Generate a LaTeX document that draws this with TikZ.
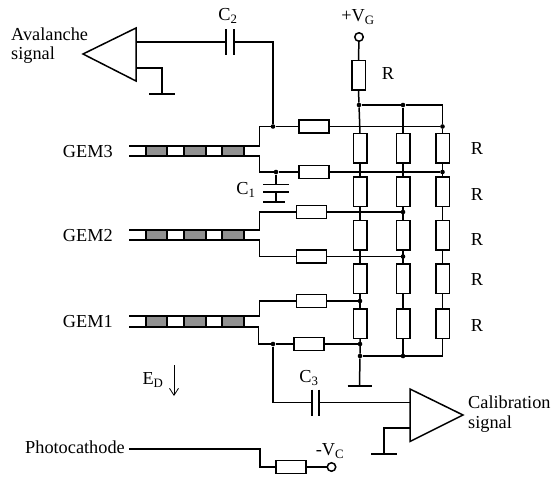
\documentclass[tikz,border=0pt]{standalone}
\usepackage{fontspec}
\setmainfont{Liberation Serif}
\usetikzlibrary{calc,arrows.meta}
\newcommand{\GemFontSize}{\fontsize{18.3}{20}\selectfont}

\tikzset{
  wire/.style={line width=1.5pt, line join=miter},
  hres/.style={draw, line width=1.5pt, fill=white, rectangle, inner sep=0pt, outer sep=0pt, minimum width=30pt, minimum height=13pt},
  vres/.style={draw, line width=1.5pt, fill=white, rectangle, inner sep=0pt, outer sep=0pt, minimum width=13.5pt, minimum height=29.5pt},
  dot/.style={circle, fill=black, inner sep=0pt, minimum size=4.6pt},
  term/.style={circle, draw, line width=1.5pt, fill=white, inner sep=0pt, minimum size=8.5pt},
  lab/.style={inner sep=0pt, font=\GemFontSize},
}

\begin{document}
\begin{tikzpicture}[x=1pt, y=-1pt, >=Latex]
    \useasboundingbox (0,0) rectangle (553,477);

    % draw GEM foils
    \foreach \ytop/\ybot/\gem in {146/156/3, 230/240/2, 316/327/1}{
      \foreach \xa/\xb in {146/167, 184/206, 222/244}{
        \draw[line width=1.2pt, fill=black!43] (\xa,\ytop) rectangle (\xb,\ybot);
      }
      \node[lab, anchor=east] (gem\gem) at (113,{(\ytop+\ybot)/2+0.5}) {GEM\gem};
      \coordinate (g\gem t) at (129,\ytop);
      \coordinate (g\gem b) at (129,\ybot);
    }

    % draw resistor ladder
    \foreach \col/\xc in {a/360, b/403, c/442.5}{
      \foreach \row/\yc in {1/148, 2/191.5, 3/235, 4/278.5, 5/323.5}{
        \node[vres] (r\col\row) at (\xc,\yc) {};
      }
      \draw[wire] (r\col1.south) -- (r\col2.north) (r\col2.south) -- (r\col3.north)
                  (r\col3.south) -- (r\col4.north) (r\col4.south) -- (r\col5.north);
    }
    \node[vres] (rtop) at (358.5,75) {};
    \node[term] (vg) at (359,37) {};
    \draw[wire] (vg) -- (rtop.north);

    % top and bottom rails
    \node[dot] (ntop) at (359,105) {};
    \node[dot] (ntopb) at (403,105) {};
    \node[dot] (nbot) at (360,356) {};
    \node[dot] (nbotb) at (403,356) {};
    \node[dot] (nc1) at (442.5,126.5) {};
    \node[dot] (nc2) at (442.5,172) {};
    \coordinate (nbotc) at (442.5,356);
    \coordinate (gnd1) at (359.5,386);
    \draw[wire] (rtop.south) -- (ntop) -- (ra1.north);
    \draw[wire] (ntop) -- (ntopb) -| (nc1) -- (rc1.north);
    \draw[wire] (ntopb) -- (rb1.north);
    \draw[wire] (ra5.south) -- (nbot) -- (gnd1);
    \draw[wire] (nbot) -- (nbotc) -- (rc5.south);
    \draw[wire] (nbotb) -- (rb5.south);
    \draw[wire] ($(gnd1)+(-12,0)$) -- ($(gnd1)+(12,0)$);

    % draw foil connections
    \node[hres] (rg3t) at (314,126.5) {};
    \node[hres] (rg3b) at (314,172) {};
    \node[hres] (rg2t) at (311.5,212) {};
    \node[hres] (rg2b) at (311.5,256.5) {};
    \node[hres] (rg1t) at (311.5,301) {};
    \node[hres] (rg1b) at (309,344) {};
    \node[dot] (n3t) at (273,126.5) {};
    \node[dot] (n3b) at (276,172) {};
    \node[dot] (n2t) at (403,212) {};
    \node[dot] (n2b) at (403,256.5) {};
    \node[dot] (n1t) at (360,301) {};
    \node[dot] (n1b) at (360,344) {};
    \node[dot] (n1c) at (273,344) {};
    \draw[wire] (g3t) -- (259.5,146) |- (n3t) -- (rg3t.west) (rg3t.east) -- (nc1);
    \draw[wire] (g3b) -- (259.5,156) |- (n3b) -- (rg3b.west) (rg3b.east) -- (nc2);
    \draw[wire] (g2t) -- (259.5,230) |- (rg2t.west) (rg2t.east) -- (n2t);
    \draw[wire] (g2b) -- (259.5,240) |- (rg2b.west) (rg2b.east) -- (n2b);
    \draw[wire] (g1t) -- (259.5,316) |- (rg1t.west) (rg1t.east) -- (n1t);
    \draw[wire] (g1b) -- (258.5,327) |- (n1c) -- (rg1b.west) (rg1b.east) -- (n1b);

    % draw avalanche amplifier
    \coordinate (amp1tip) at (83,54);
    \coordinate (amp1in) at (136,42);
    \coordinate (amp1gnd) at (136,68);
    \coordinate (gnd2) at (162,94);
    \coordinate (c2l) at (226,42);
    \coordinate (c2r) at (234,42);
    \draw[wire, line join=miter] (amp1tip) -- (136,28) -- (136,81) -- cycle;
    \draw[wire] (amp1in) -- (c2l) (c2r) -| (n3t);
    \draw[wire] ($(c2l)+(0,-13)$) -- ($(c2l)+(0,13)$) ($(c2r)+(0,-13)$) -- ($(c2r)+(0,13)$);
    \draw[wire] (amp1gnd) -| (gnd2);
    \draw[wire] ($(gnd2)+(-13,0)$) -- ($(gnd2)+(13,0)$);

    % draw C1
    \coordinate (c1a) at (276,184.5);
    \coordinate (c1b) at (276,192);
    \coordinate (c1c) at (276,202);
    \draw[wire] (n3b) -- (c1a) (c1b) -- (c1c);
    \draw[wire] ($(c1a)+(-13,0)$) -- ($(c1a)+(13,0)$);
    \draw[wire] ($(c1b)+(-13,0)$) -- ($(c1b)+(13,0)$);
    \draw[wire] ($(c1c)+(-13,0)$) -- ($(c1c)+(9,0)$);

    % draw calibration amplifier
    \coordinate (amp2tip) at (463,415);
    \coordinate (amp2in) at (410,402.5);
    \coordinate (amp2gnd) at (410,428);
    \coordinate (gnd3) at (384,454);
    \coordinate (c3l) at (312,402.5);
    \coordinate (c3r) at (319,402.5);
    \draw[wire] (amp2tip) -- (410,389) -- (410,441.5) -- cycle;
    \draw[wire] (n1c) |- (c3l) (c3r) -- (amp2in);
    \draw[wire] ($(c3l)+(0,-13)$) -- ($(c3l)+(0,13)$) ($(c3r)+(0,-13)$) -- ($(c3r)+(0,13)$);
    \draw[wire] (amp2gnd) -| (gnd3);
    \draw[wire] ($(gnd3)+(-13,0)$) -- ($(gnd3)+(13,0)$);

    % draw photocathode line
    \node[hres] (rvc) at (291,467) {};
    \node[term] (vc) at (331.5,467) {};
    \coordinate (pc) at (129,449);
    \draw[wire] (pc) -- (260,449) |- (rvc.west) (rvc.east) -- (vc);

    % drift field arrow
    \coordinate (eda) at (174,365);
    \coordinate (edb) at (174,396);
    \draw[line width=0.8pt, -{Straight Barb[length=7pt,width=9pt]}] (eda) -- (edb);

    % labels
    \node[lab, anchor=west] (avl) at (11,34) {Avalanche};
    \node[lab, anchor=west] (avs) at (11,55) {signal};
    \node[lab, anchor=west] (cal) at (468,402) {Calibration};
    \node[lab, anchor=west] (cas) at (468,424) {signal};
    \node[lab, anchor=east] (pcl) at (125,447) {Photocathode};
    \node[lab] (lc2) at (228,16) {C\textsubscript{2}};
    \node[lab] (lc1) at (246,190) {C\textsubscript{1}};
    \node[lab] (lc3) at (309,378) {C\textsubscript{3}};
    \node[lab] (lvg) at (358,17) {+V\textsubscript{G}};
    \node[lab] (lvc) at (330,451) {-V\textsubscript{C}};
    \node[lab] (led) at (153,380) {E\textsubscript{D}};
    \node[lab] (lr0) at (388,74) {R};
    \foreach \yl in {149, 194.5, 239.5, 279.5, 325}{
      \node[lab] (lr\yl) at (477,\yl) {R};
    }
  \end{tikzpicture}
\end{document}
